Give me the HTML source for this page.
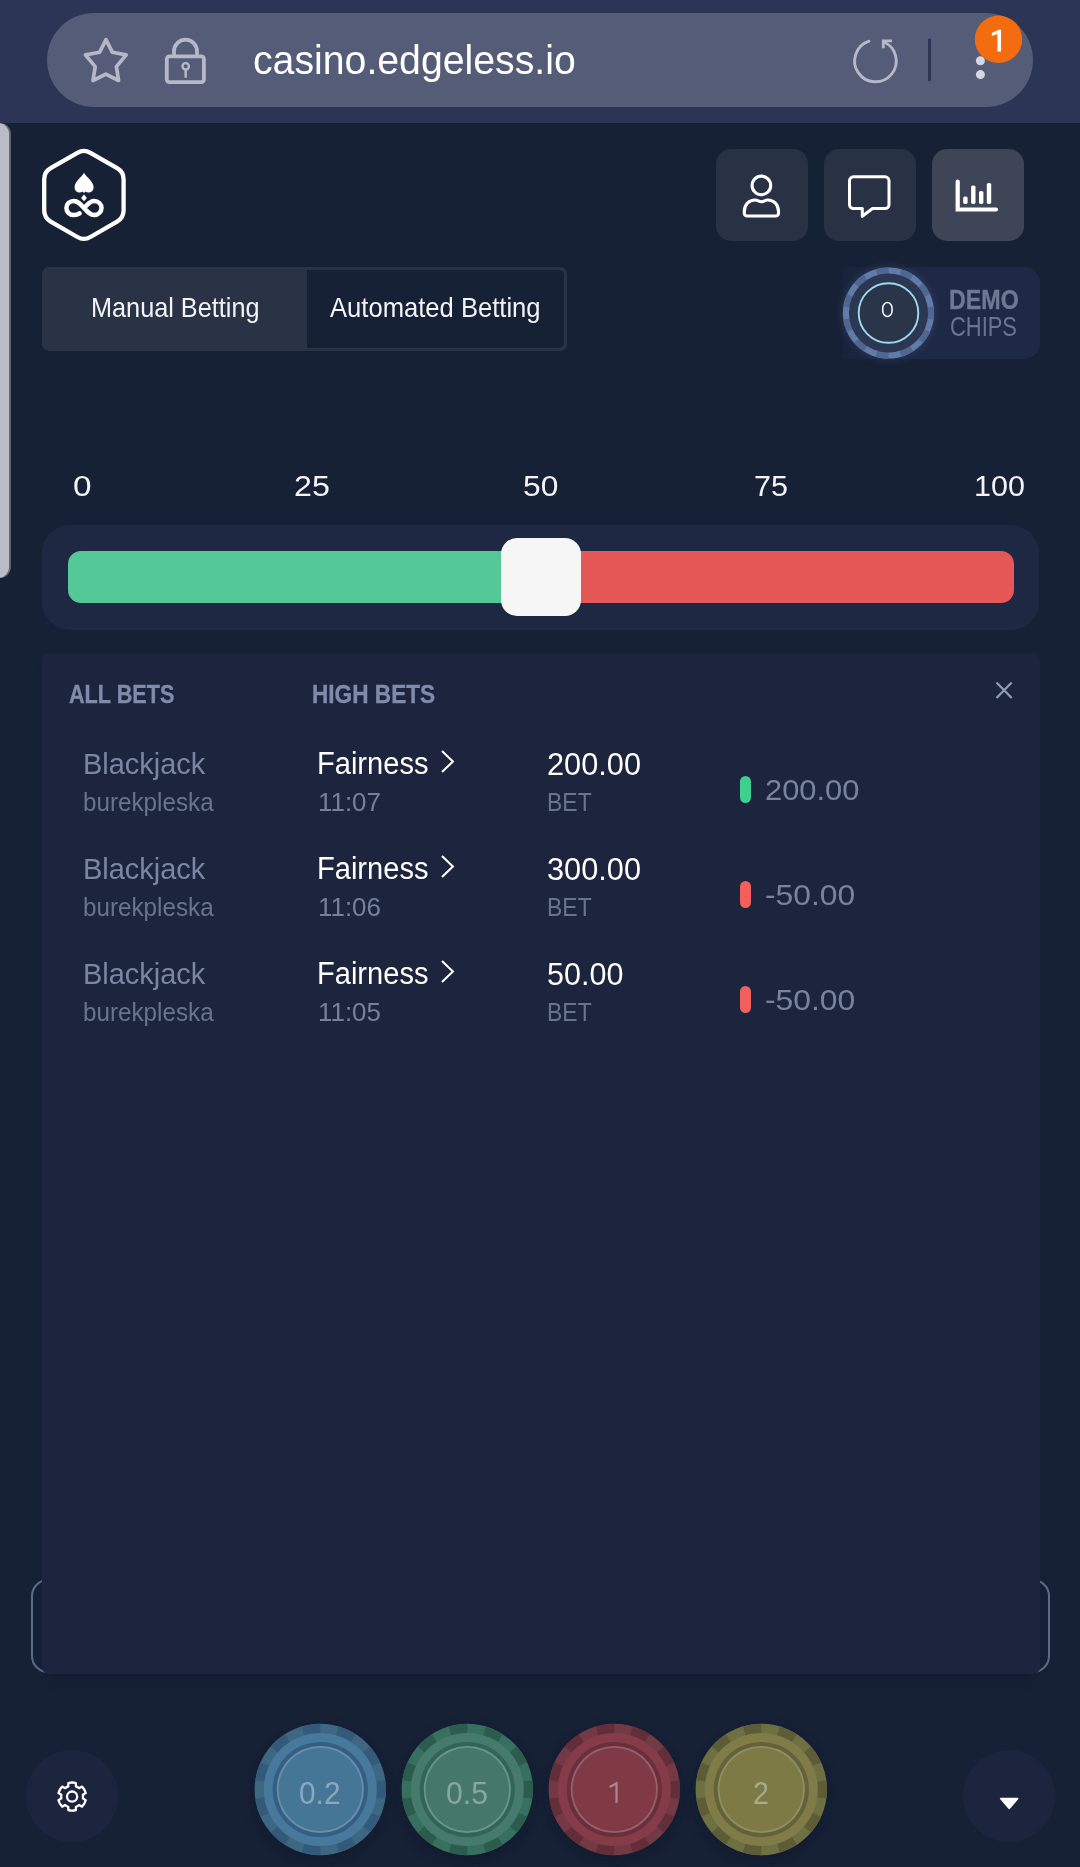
<!DOCTYPE html>
<html><head><meta charset="utf-8"><title>casino.edgeless.io</title>
<style>
html,body{margin:0;padding:0}
body{width:1080px;height:1867px;position:relative;overflow:hidden;background:#172136;font-family:"Liberation Sans",sans-serif}
.a{position:absolute}
.t{position:absolute;white-space:nowrap;line-height:1;transform-origin:0 50%}
</style></head><body>
<div class="a" style="left:0;top:0;width:1080px;height:123px;background:#2d3556"></div>
<div class="a" style="left:47px;top:13px;width:985.5px;height:94px;border-radius:47px;background:#545c78"></div>
<div class="a" style="left:-13px;top:123px;width:22.2px;height:455px;border-radius:11px;background:#b9bcc6;box-shadow:1.9px 0 0 0 rgba(185,188,198,0.47)"></div>
<div class="a" style="left:42px;top:267px;width:525px;height:84px;border-radius:7px;background:#2a3246;box-sizing:border-box"></div>
<div class="a" style="left:306.5px;top:270px;width:257.5px;height:78px;border-radius:0 5px 5px 0;background:#172136"></div>
<div class="a" style="left:716.4px;top:149px;width:92px;height:92px;border-radius:15px;background:#293145"></div>
<div class="a" style="left:824.4px;top:149px;width:92px;height:92px;border-radius:15px;background:#293145"></div>
<div class="a" style="left:932px;top:149px;width:92px;height:92px;border-radius:15px;background:#3d4557"></div>
<div class="a" style="left:843px;top:266.8px;width:196.5px;height:92.5px;border-radius:4px 16px 16px 4px;background:linear-gradient(90deg,#19233b 0%,#1b2540 28%,#1e2945 40%,#1e2945 100%)"></div>
<div class="a" style="left:41.5px;top:524.8px;width:997.5px;height:104.8px;border-radius:28px;background:#1e2842"></div>
<div class="a" style="left:68px;top:551px;width:480px;height:51.5px;border-radius:13px 0 0 13px;background:#55c897"></div>
<div class="a" style="left:540px;top:551px;width:473.5px;height:51.5px;border-radius:0 13px 13px 0;background:#e65757"></div>
<div class="a" style="left:501px;top:537.5px;width:79.5px;height:78.5px;border-radius:16px;background:#f6f6f6"></div>
<div class="a" style="left:31.3px;top:1579px;width:1019px;height:94px;border-radius:17px;border:2.8px solid #606a85;box-sizing:border-box"></div>
<div class="a" style="left:41.5px;top:653px;width:998px;height:1021px;border-radius:7px;background:#1c243e;box-shadow:0 10px 12px -8px rgba(8,12,26,0.45)"></div>
<div class="a" style="left:740.3px;top:776.3px;width:11px;height:26.3px;border-radius:5.5px;background:#3fcf8e"></div>
<div class="a" style="left:740.3px;top:881.3px;width:11px;height:26.3px;border-radius:5.5px;background:#f25f5c"></div>
<div class="a" style="left:740.3px;top:986.3px;width:11px;height:26.3px;border-radius:5.5px;background:#f25f5c"></div>
<div class="a" style="left:26px;top:1750px;width:92px;height:92px;border-radius:46px;background:#1c243e"></div>
<div class="a" style="left:963px;top:1749.7px;width:92px;height:92px;border-radius:46px;background:#1c243e"></div>
<svg class="a" style="left:0;top:0" width="1080" height="1867" viewBox="0 0 1080 1867">
<defs><filter id="blur6" x="-30%" y="-30%" width="160%" height="160%"><feGaussianBlur stdDeviation="6"/></filter><filter id="blur3" x="-30%" y="-30%" width="160%" height="160%"><feGaussianBlur stdDeviation="3"/></filter></defs>
<path d="M106 39.6 L112.3 52.2 L126.2 54.9 L116.4 66.6 L118.6 80.5 L105.8 74.2 L93 80.5 L95.2 66.6 L85.4 54.9 L99.7 52.2 Z" fill="none" stroke="#b4b8c8" stroke-width="3.7" stroke-linejoin="round"/>
<rect x="166.8" y="56.3" width="37.1" height="25.8" rx="2.5" fill="none" stroke="#b4b8c8" stroke-width="3.8"/>
<path d="M174 56 V51.2 A11.5 11.5 0 0 1 197 51.2 V56" fill="none" stroke="#b4b8c8" stroke-width="3.8"/>
<circle cx="185.7" cy="66.3" r="3.2" fill="none" stroke="#b4b8c8" stroke-width="2.4"/><path d="M185.7 69 V77.8" stroke="#b4b8c8" stroke-width="2.5"/>
<path d="M869 41.2 A20.8 20.8 0 1 0 884 42" fill="none" stroke="#b4b8c8" stroke-width="2.9" stroke-linecap="round"/>
<path d="M892 40.9 H883.3 V48.3" fill="none" stroke="#b4b8c8" stroke-width="2.9" stroke-linejoin="miter"/>
<rect x="928" y="38.7" width="3" height="42.3" fill="#2d3556"/>
<circle cx="980.4" cy="60.7" r="4.5" fill="#d5d8e3"/><circle cx="980.4" cy="74.6" r="4.5" fill="#d5d8e3"/>
<circle cx="998.5" cy="39.3" r="23.7" fill="#f36c10"/><path d="M1001.1 29.7 V51.4 H997.4 V34.1 L991.9 36.1 V32.9 L998.6 29.7 Z" fill="#fffdf5"/>
<path d="M77.40 152.81A13 13 0 0 1 90.40 152.81L117.10 168.23A13 13 0 0 1 123.60 179.49L123.60 210.31A13 13 0 0 1 117.10 221.57L90.40 236.99A13 13 0 0 1 77.40 236.99L50.70 221.57A13 13 0 0 1 44.20 210.31L44.20 179.49A13 13 0 0 1 50.70 168.23Z" fill="none" stroke="#ffffff" stroke-width="4.3"/>
<path d="M84 172.8 C86.5 177.5 93.6 181.5 93.6 187.2 C93.6 191.8 88.6 194 85.2 191.5 L84 193.2 L82.8 191.5 C79.4 194 74.6 191.8 74.6 187.2 C74.6 181.5 81.5 177.5 84 172.8 Z" fill="#ffffff"/>
<path d="M84 194.6 L86.9 198 Q84 201.2 84 201.2 Q84 201.2 81.1 198 Z" fill="#ffffff"/>
<path d="M79.6 213.4 C78 214.6 76 215.1 73.8 215.1 C69.7 215.1 66.4 211.9 66.4 208 C66.4 204.1 69.7 200.9 73.8 200.9 C77.5 200.9 80 203.5 84 208 C88 212.5 90.5 215.1 94.2 215.1 C98.3 215.1 101.5 211.9 101.5 208 C101.5 204.1 98.3 200.9 94.2 200.9 C91 200.9 88.6 203 86 205.9" fill="none" stroke="#ffffff" stroke-width="4.5" stroke-linecap="round"/>
<circle cx="761.4" cy="185.4" r="9.3" fill="none" stroke="#ffffff" stroke-width="3.1"/>
<path d="M744.3 213.2 V211.5 C744.3 204.5 749 200 755 200 C757.8 200 758.8 201.8 761.4 201.8 C764 201.8 765 200 767.8 200 C773.8 200 778.5 204.5 778.5 211.5 V213.2 A2.8 2.8 0 0 1 775.7 216 H747.1 A2.8 2.8 0 0 1 744.3 213.2 Z" fill="none" stroke="#ffffff" stroke-width="3.1"/>
<path d="M853.5 176.8 H885 A4 4 0 0 1 889 180.8 V204.5 A4 4 0 0 1 885 208.5 H872.5 L862.3 216.3 V208.5 H853.5 A4 4 0 0 1 849.5 204.5 V180.8 A4 4 0 0 1 853.5 176.8 Z" fill="none" stroke="#ffffff" stroke-width="3" stroke-linejoin="round"/>
<path d="M957.7 181.5 V209.5 H996" fill="none" stroke="#ffffff" stroke-width="4.2" stroke-linecap="round"/>
<rect x="963.2" y="196.4" width="4.4" height="7.5" rx="1.6" fill="#ffffff"/>
<rect x="971.1" y="185.4" width="4.4" height="18.5" rx="1.6" fill="#ffffff"/>
<rect x="979.0" y="191" width="4.4" height="12.9" rx="1.6" fill="#ffffff"/>
<rect x="986.8" y="182.9" width="4.4" height="21.0" rx="1.6" fill="#ffffff"/>
<path d="M996.5 682.5 L1011.7 698 M1011.7 682.5 L996.5 698" stroke="#8f9bb8" stroke-width="2.3"/>
<path d="M442 751.1 L452.9 761.6 L442 772.1" fill="none" stroke="#ffffff" stroke-width="2.1"/>
<path d="M442 856.1 L452.9 866.6 L442 877.1" fill="none" stroke="#ffffff" stroke-width="2.1"/>
<path d="M442 961.1 L452.9 971.6 L442 982.1" fill="none" stroke="#ffffff" stroke-width="2.1"/>
<circle cx="888.5" cy="313" r="47.6" fill="#40527e" opacity="0.32" filter="url(#blur3)"/>
<circle cx="888.5" cy="313" r="45.6" fill="#627ba8"/>
<path d="M888.5 313L901.35 269.25A45.6 45.6 0 0 1 913.15 274.64Z" fill="#4e6692"/>
<path d="M888.5 313L922.96 283.14A45.6 45.6 0 0 1 929.98 294.06Z" fill="#4e6692"/>
<path d="M888.5 313L933.64 306.51A45.6 45.6 0 0 1 933.64 319.49Z" fill="#4e6692"/>
<path d="M888.5 313L929.98 331.94A45.6 45.6 0 0 1 922.96 342.86Z" fill="#4e6692"/>
<path d="M888.5 313L913.15 351.36A45.6 45.6 0 0 1 901.35 356.75Z" fill="#4e6692"/>
<path d="M888.5 313L888.50 358.60A45.6 45.6 0 0 1 875.65 356.75Z" fill="#4e6692"/>
<path d="M888.5 313L863.85 351.36A45.6 45.6 0 0 1 854.04 342.86Z" fill="#4e6692"/>
<path d="M888.5 313L847.02 331.94A45.6 45.6 0 0 1 843.36 319.49Z" fill="#4e6692"/>
<path d="M888.5 313L843.36 306.51A45.6 45.6 0 0 1 847.02 294.06Z" fill="#4e6692"/>
<path d="M888.5 313L854.04 283.14A45.6 45.6 0 0 1 863.85 274.64Z" fill="#4e6692"/>
<path d="M888.5 313L875.65 269.25A45.6 45.6 0 0 1 888.50 267.40Z" fill="#4e6692"/>
<circle cx="888.5" cy="313" r="39.6" fill="#2c3853"/>
<circle cx="888.5" cy="313" r="29.8" fill="#2b3549" stroke="#9edaed" stroke-width="1.9"/>
<rect x="882.75" y="302.5" width="9.3" height="14" rx="4.65" ry="5.6" fill="none" stroke="#f4f5f9" stroke-width="1.6"/>
<circle cx="320.3" cy="1794.5" r="65.7" fill="#0e1526" opacity="0.55" filter="url(#blur6)"/>
<circle cx="320.3" cy="1789.5" r="65.7" fill="#3e6782"/>
<path d="M320.3 1789.5L338.81 1726.46A65.7 65.7 0 0 1 355.82 1734.23Z" fill="#335a7b"/>
<path d="M320.3 1789.5L369.95 1746.48A65.7 65.7 0 0 1 380.06 1762.21Z" fill="#335a7b"/>
<path d="M320.3 1789.5L385.33 1780.15A65.7 65.7 0 0 1 385.33 1798.85Z" fill="#335a7b"/>
<path d="M320.3 1789.5L380.06 1816.79A65.7 65.7 0 0 1 369.95 1832.52Z" fill="#335a7b"/>
<path d="M320.3 1789.5L355.82 1844.77A65.7 65.7 0 0 1 338.81 1852.54Z" fill="#335a7b"/>
<path d="M320.3 1789.5L320.30 1855.20A65.7 65.7 0 0 1 301.79 1852.54Z" fill="#335a7b"/>
<path d="M320.3 1789.5L284.78 1844.77A65.7 65.7 0 0 1 270.65 1832.52Z" fill="#335a7b"/>
<path d="M320.3 1789.5L260.54 1816.79A65.7 65.7 0 0 1 255.27 1798.85Z" fill="#335a7b"/>
<path d="M320.3 1789.5L255.27 1780.15A65.7 65.7 0 0 1 260.54 1762.21Z" fill="#335a7b"/>
<path d="M320.3 1789.5L270.65 1746.48A65.7 65.7 0 0 1 284.78 1734.23Z" fill="#335a7b"/>
<path d="M320.3 1789.5L301.79 1726.46A65.7 65.7 0 0 1 320.30 1723.80Z" fill="#335a7b"/>
<circle cx="320.3" cy="1789.5" r="56.5" fill="#46799b"/>
<circle cx="320.3" cy="1789.5" r="47.6" fill="#355f82"/>
<circle cx="320.3" cy="1789.5" r="43.6" fill="#678faa"/>
<circle cx="320.3" cy="1789.5" r="41.8" fill="#467695"/>
<circle cx="467.3" cy="1794.5" r="65.7" fill="#0e1526" opacity="0.55" filter="url(#blur6)"/>
<circle cx="467.3" cy="1789.5" r="65.7" fill="#37705f"/>
<path d="M467.3 1789.5L485.81 1726.46A65.7 65.7 0 0 1 502.82 1734.23Z" fill="#2b5c4e"/>
<path d="M467.3 1789.5L516.95 1746.48A65.7 65.7 0 0 1 527.06 1762.21Z" fill="#2b5c4e"/>
<path d="M467.3 1789.5L532.33 1780.15A65.7 65.7 0 0 1 532.33 1798.85Z" fill="#2b5c4e"/>
<path d="M467.3 1789.5L527.06 1816.79A65.7 65.7 0 0 1 516.95 1832.52Z" fill="#2b5c4e"/>
<path d="M467.3 1789.5L502.82 1844.77A65.7 65.7 0 0 1 485.81 1852.54Z" fill="#2b5c4e"/>
<path d="M467.3 1789.5L467.30 1855.20A65.7 65.7 0 0 1 448.79 1852.54Z" fill="#2b5c4e"/>
<path d="M467.3 1789.5L431.78 1844.77A65.7 65.7 0 0 1 417.65 1832.52Z" fill="#2b5c4e"/>
<path d="M467.3 1789.5L407.54 1816.79A65.7 65.7 0 0 1 402.27 1798.85Z" fill="#2b5c4e"/>
<path d="M467.3 1789.5L402.27 1780.15A65.7 65.7 0 0 1 407.54 1762.21Z" fill="#2b5c4e"/>
<path d="M467.3 1789.5L417.65 1746.48A65.7 65.7 0 0 1 431.78 1734.23Z" fill="#2b5c4e"/>
<path d="M467.3 1789.5L448.79 1726.46A65.7 65.7 0 0 1 467.30 1723.80Z" fill="#2b5c4e"/>
<circle cx="467.3" cy="1789.5" r="56.5" fill="#467a6c"/>
<circle cx="467.3" cy="1789.5" r="47.6" fill="#336456"/>
<circle cx="467.3" cy="1789.5" r="43.6" fill="#66968c"/>
<circle cx="467.3" cy="1789.5" r="41.8" fill="#46786a"/>
<circle cx="614.3" cy="1794.5" r="65.7" fill="#0e1526" opacity="0.55" filter="url(#blur6)"/>
<circle cx="614.3" cy="1789.5" r="65.7" fill="#733a46"/>
<path d="M614.3 1789.5L632.81 1726.46A65.7 65.7 0 0 1 649.82 1734.23Z" fill="#622e3a"/>
<path d="M614.3 1789.5L663.95 1746.48A65.7 65.7 0 0 1 674.06 1762.21Z" fill="#622e3a"/>
<path d="M614.3 1789.5L679.33 1780.15A65.7 65.7 0 0 1 679.33 1798.85Z" fill="#622e3a"/>
<path d="M614.3 1789.5L674.06 1816.79A65.7 65.7 0 0 1 663.95 1832.52Z" fill="#622e3a"/>
<path d="M614.3 1789.5L649.82 1844.77A65.7 65.7 0 0 1 632.81 1852.54Z" fill="#622e3a"/>
<path d="M614.3 1789.5L614.30 1855.20A65.7 65.7 0 0 1 595.79 1852.54Z" fill="#622e3a"/>
<path d="M614.3 1789.5L578.78 1844.77A65.7 65.7 0 0 1 564.65 1832.52Z" fill="#622e3a"/>
<path d="M614.3 1789.5L554.54 1816.79A65.7 65.7 0 0 1 549.27 1798.85Z" fill="#622e3a"/>
<path d="M614.3 1789.5L549.27 1780.15A65.7 65.7 0 0 1 554.54 1762.21Z" fill="#622e3a"/>
<path d="M614.3 1789.5L564.65 1746.48A65.7 65.7 0 0 1 578.78 1734.23Z" fill="#622e3a"/>
<path d="M614.3 1789.5L595.79 1726.46A65.7 65.7 0 0 1 614.30 1723.80Z" fill="#622e3a"/>
<circle cx="614.3" cy="1789.5" r="56.5" fill="#853c48"/>
<circle cx="614.3" cy="1789.5" r="47.6" fill="#69303c"/>
<circle cx="614.3" cy="1789.5" r="43.6" fill="#965f6e"/>
<circle cx="614.3" cy="1789.5" r="41.8" fill="#803a46"/>
<circle cx="761.3" cy="1794.5" r="65.7" fill="#0e1526" opacity="0.55" filter="url(#blur6)"/>
<circle cx="761.3" cy="1789.5" r="65.7" fill="#6e7044"/>
<path d="M761.3 1789.5L779.81 1726.46A65.7 65.7 0 0 1 796.82 1734.23Z" fill="#5d5c37"/>
<path d="M761.3 1789.5L810.95 1746.48A65.7 65.7 0 0 1 821.06 1762.21Z" fill="#5d5c37"/>
<path d="M761.3 1789.5L826.33 1780.15A65.7 65.7 0 0 1 826.33 1798.85Z" fill="#5d5c37"/>
<path d="M761.3 1789.5L821.06 1816.79A65.7 65.7 0 0 1 810.95 1832.52Z" fill="#5d5c37"/>
<path d="M761.3 1789.5L796.82 1844.77A65.7 65.7 0 0 1 779.81 1852.54Z" fill="#5d5c37"/>
<path d="M761.3 1789.5L761.30 1855.20A65.7 65.7 0 0 1 742.79 1852.54Z" fill="#5d5c37"/>
<path d="M761.3 1789.5L725.78 1844.77A65.7 65.7 0 0 1 711.65 1832.52Z" fill="#5d5c37"/>
<path d="M761.3 1789.5L701.54 1816.79A65.7 65.7 0 0 1 696.27 1798.85Z" fill="#5d5c37"/>
<path d="M761.3 1789.5L696.27 1780.15A65.7 65.7 0 0 1 701.54 1762.21Z" fill="#5d5c37"/>
<path d="M761.3 1789.5L711.65 1746.48A65.7 65.7 0 0 1 725.78 1734.23Z" fill="#5d5c37"/>
<path d="M761.3 1789.5L742.79 1726.46A65.7 65.7 0 0 1 761.30 1723.80Z" fill="#5d5c37"/>
<circle cx="761.3" cy="1789.5" r="56.5" fill="#807c48"/>
<circle cx="761.3" cy="1789.5" r="47.6" fill="#64623a"/>
<circle cx="761.3" cy="1789.5" r="43.6" fill="#8c915f"/>
<circle cx="761.3" cy="1789.5" r="41.8" fill="#7d7a46"/>
<path d="M609.7 1787 L616.5 1783.3 V1803" fill="none" stroke="#a98794" stroke-width="2.2"/>
<path d="M68.25 1786.40L68.38 1783.00A14.1 14.1 0 0 1 75.82 1783.00L75.95 1786.40A10.9 10.9 0 0 1 79.00 1788.17L79.00 1788.17L82.02 1786.58A14.1 14.1 0 0 1 85.74 1793.02L82.86 1794.84A10.9 10.9 0 0 1 82.86 1798.36L82.86 1798.36L85.74 1800.18A14.1 14.1 0 0 1 82.02 1806.62L79.00 1805.03A10.9 10.9 0 0 1 75.95 1806.80L75.95 1806.80L75.82 1810.20A14.1 14.1 0 0 1 68.38 1810.20L68.25 1806.80A10.9 10.9 0 0 1 65.20 1805.03L65.20 1805.03L62.18 1806.62A14.1 14.1 0 0 1 58.46 1800.18L61.34 1798.36A10.9 10.9 0 0 1 61.34 1794.84L61.34 1794.84L58.46 1793.02A14.1 14.1 0 0 1 62.18 1786.58L65.20 1788.17A10.9 10.9 0 0 1 68.25 1786.40Z" fill="none" stroke="#ffffff" stroke-width="2.3" stroke-linejoin="round"/>
<circle cx="72.1" cy="1796.6" r="5.1" fill="none" stroke="#ffffff" stroke-width="2.3"/>
<path d="M1000.7 1798.6 H1017.7 L1009.2 1808.4 Z" fill="#ffffff" stroke="#ffffff" stroke-width="1.6" stroke-linejoin="round"/>
</svg>
<span id="url" class="t" style="left:253.39px;top:40.42px;font-size:41.2px;font-weight:400;color:#ffffff;transform:scaleX(0.9525)">casino.edgeless.io</span>
<span id="tab1" class="t" style="left:90.94px;top:293.98px;font-size:27.2px;font-weight:400;color:#f2f4f8;transform:scaleX(0.9292)">Manual Betting</span>
<span id="tab2" class="t" style="left:330.00px;top:293.98px;font-size:27.2px;font-weight:400;color:#f2f4f8;transform:scaleX(0.9414)">Automated Betting</span>
<span id="demo" class="t" style="left:948.89px;top:286.28px;font-size:27.2px;font-weight:700;color:#6f7993;-webkit-text-stroke:0.35px #6f7993;transform:scaleX(0.8557)">DEMO</span>
<span id="chips" class="t" style="left:949.80px;top:313.41px;font-size:27.4px;font-weight:400;color:#6b7590;transform:scaleX(0.8000)">CHIPS</span>
<span id="l0" class="t" style="left:72.90px;top:470.75px;font-size:30.3px;font-weight:400;color:#f2f4f8;transform:scaleX(1.1000)">0</span>
<span id="l25" class="t" style="left:293.94px;top:470.75px;font-size:30.3px;font-weight:400;color:#f2f4f8;transform:scaleX(1.0625)">25</span>
<span id="l50" class="t" style="left:522.95px;top:470.75px;font-size:30.3px;font-weight:400;color:#f2f4f8;transform:scaleX(1.0469)">50</span>
<span id="l75" class="t" style="left:753.59px;top:470.75px;font-size:30.3px;font-weight:400;color:#f2f4f8;transform:scaleX(1.0062)">75</span>
<span id="l100" class="t" style="left:974.39px;top:470.75px;font-size:30.3px;font-weight:400;color:#f2f4f8;transform:scaleX(1.0063)">100</span>
<span id="allbets" class="t" style="left:69.46px;top:681.66px;font-size:25.8px;font-weight:700;color:#808bab;-webkit-text-stroke:0.35px #808bab;transform:scaleX(0.8387)">ALL BETS</span>
<span id="highbets" class="t" style="left:312.45px;top:681.66px;font-size:25.8px;font-weight:700;color:#808bab;-webkit-text-stroke:0.35px #808bab;transform:scaleX(0.8768)">HIGH BETS</span>
<span id="r0game" class="t" style="left:83.09px;top:748.55px;font-size:30.3px;font-weight:400;color:#7b86a3;transform:scaleX(0.9556)">Blackjack</span>
<span id="r0user" class="t" style="left:83.28px;top:789.10px;font-size:26.7px;font-weight:400;color:#69748f;transform:scaleX(0.9077)">burekpleska</span>
<span id="r0fair" class="t" style="left:317.30px;top:748.30px;font-size:30.6px;font-weight:400;color:#ffffff;transform:scaleX(0.9500)">Fairness</span>
<span id="r0time" class="t" style="left:317.84px;top:789.35px;font-size:26.4px;font-weight:400;color:#77819d;transform:scaleX(0.9820)">11:07</span>
<span id="r0bet" class="t" style="left:547.20px;top:748.50px;font-size:30.6px;font-weight:400;color:#ffffff;transform:scaleX(1.0043)">200.00</span>
<span id="r0betl" class="t" style="left:546.95px;top:788.84px;font-size:26.3px;font-weight:400;color:#69748f;transform:scaleX(0.8735)">BET</span>
<span id="r0res" class="t" style="left:765.16px;top:774.87px;font-size:29.8px;font-weight:400;color:#79839f;transform:scaleX(1.0360)">200.00</span>
<span id="r1game" class="t" style="left:83.09px;top:853.55px;font-size:30.3px;font-weight:400;color:#7b86a3;transform:scaleX(0.9556)">Blackjack</span>
<span id="r1user" class="t" style="left:83.28px;top:894.10px;font-size:26.7px;font-weight:400;color:#69748f;transform:scaleX(0.9077)">burekpleska</span>
<span id="r1fair" class="t" style="left:317.30px;top:853.30px;font-size:30.6px;font-weight:400;color:#ffffff;transform:scaleX(0.9500)">Fairness</span>
<span id="r1time" class="t" style="left:317.84px;top:894.35px;font-size:26.4px;font-weight:400;color:#77819d;transform:scaleX(0.9820)">11:06</span>
<span id="r1bet" class="t" style="left:547.20px;top:853.50px;font-size:30.6px;font-weight:400;color:#ffffff;transform:scaleX(1.0043)">300.00</span>
<span id="r1betl" class="t" style="left:546.95px;top:893.84px;font-size:26.3px;font-weight:400;color:#69748f;transform:scaleX(0.8735)">BET</span>
<span id="r1res" class="t" style="left:765.13px;top:879.87px;font-size:29.8px;font-weight:400;color:#79839f;transform:scaleX(1.0675)">-50.00</span>
<span id="r2game" class="t" style="left:83.09px;top:958.55px;font-size:30.3px;font-weight:400;color:#7b86a3;transform:scaleX(0.9556)">Blackjack</span>
<span id="r2user" class="t" style="left:83.28px;top:999.10px;font-size:26.7px;font-weight:400;color:#69748f;transform:scaleX(0.9077)">burekpleska</span>
<span id="r2fair" class="t" style="left:317.30px;top:958.30px;font-size:30.6px;font-weight:400;color:#ffffff;transform:scaleX(0.9500)">Fairness</span>
<span id="r2time" class="t" style="left:317.84px;top:999.35px;font-size:26.4px;font-weight:400;color:#77819d;transform:scaleX(0.9820)">11:05</span>
<span id="r2bet" class="t" style="left:547.20px;top:958.50px;font-size:30.6px;font-weight:400;color:#ffffff;transform:scaleX(0.9973)">50.00</span>
<span id="r2betl" class="t" style="left:546.95px;top:998.84px;font-size:26.3px;font-weight:400;color:#69748f;transform:scaleX(0.8735)">BET</span>
<span id="r2res" class="t" style="left:765.13px;top:984.87px;font-size:29.8px;font-weight:400;color:#79839f;transform:scaleX(1.0675)">-50.00</span>
<span id="c0" class="t" style="left:299.32px;top:1777.50px;font-size:30.6px;font-weight:400;color:#8aa8c0;transform:scaleX(0.9750)">0.2</span>
<span id="c1" class="t" style="left:446.41px;top:1777.50px;font-size:30.6px;font-weight:400;color:#86a8a0;transform:scaleX(0.9850)">0.5</span>
<span id="c3" class="t" style="left:753.37px;top:1777.50px;font-size:30.6px;font-weight:400;color:#a8aa8a;transform:scaleX(0.9333)">2</span>
</body></html>
